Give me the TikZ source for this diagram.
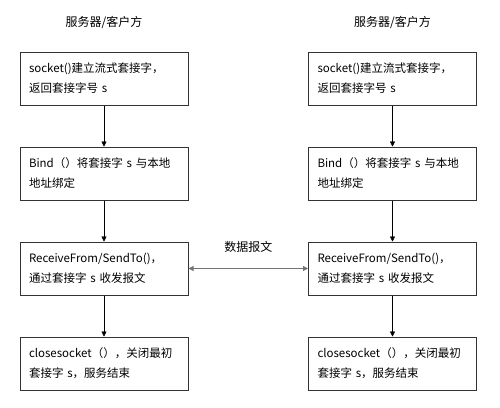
\documentclass[tikz,border=0pt]{standalone}
\usepackage{fontspec}
\setmainfont{Noto Sans CJK SC}
\usetikzlibrary{arrows.meta, positioning}

\begin{document}
\begin{tikzpicture}[
    x=1pt, y=1pt,
    >={Triangle[length=5pt,width=5pt]},
    font=\fontsize{11.5}{20}\selectfont,
    stepbox/.style={draw=black!80, line width=1pt,
                    text width=150pt, minimum height=53pt,
                    inner xsep=9pt, align=left, fill=white},
    sidetitle/.style={font=\fontsize{12}{14}\selectfont},
    flow/.style={->, thin, black},
    datagram/.style={<->, line width=0.8pt, black!55},
]
\useasboundingbox (0,0) rectangle (500,-407);

% ---------------- left side: server/client ----------------
\node[stepbox] (l1) at (104,-78.5) {socket()建立流式套接字，\\返回套接字号 s};
\node[stepbox, below=41pt of l1] (l2) {Bind（）将套接字 s 与本地\\地址绑定};
\node[stepbox, below=41pt of l2] (l3) {ReceiveFrom/SendTo()，\\通过套接字 s 收发报文};
\node[stepbox, below=41pt of l3] (l4) {closesocket（），关闭最初\\套接字 s，服务结束};

\node[sidetitle, above=19pt of l1] (ltitle) {服务器/客户方};

% ---------------- right side: server/client ----------------
\node[stepbox] (r1) at (392.5,-78.5) {socket()建立流式套接字，\\返回套接字号 s};
\node[stepbox, below=41pt of r1] (r2) {Bind（）将套接字 s 与本地\\地址绑定};
\node[stepbox, below=41pt of r2] (r3) {ReceiveFrom/SendTo()，\\通过套接字 s 收发报文};
\node[stepbox, below=41pt of r3] (r4) {closesocket（），关闭最初\\套接字 s，服务结束};

\node[sidetitle, above=19pt of r1] (rtitle) {服务器/客户方};

% arrows down each side
\foreach \s in {l,r} {%
    \draw[flow] (\s1) -- (\s2);
    \draw[flow] (\s2) -- (\s3);
    \draw[flow] (\s3) -- (\s4);
}

% datagram exchange between the two sides
\draw[datagram] (l3.east) -- (r3.west)
    node[midway, above=12pt, black, sidetitle] (dlabel) {数据报文};

\end{tikzpicture}
\end{document}
